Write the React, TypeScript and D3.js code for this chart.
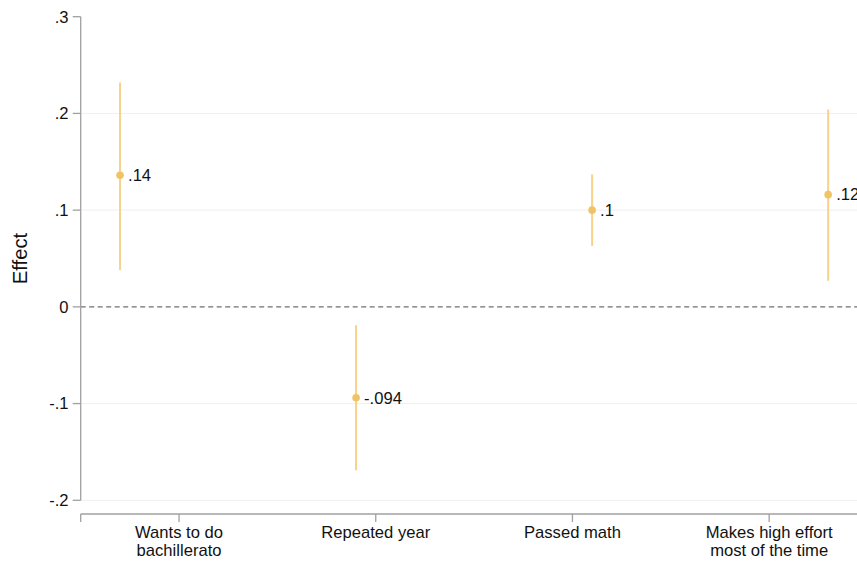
import React from "react";
import * as d3 from "d3";

const categories: string[][] = [
  ["Wants to do", "bachillerato"],
  ["Repeated year"],
  ["Passed math"],
  ["Makes high effort", "most of the time"],
];
const estimates = [0.136, -0.094, 0.1, 0.116];
const lowerCI = [0.038, -0.169, 0.063, 0.027];
const upperCI = [0.232, -0.019, 0.137, 0.204];
const valueLabels = [".14", "-.094", ".1", ".12"];
const yTicks = [0.3, 0.2, 0.1, 0, -0.1, -0.2];
const yTickLabels = [".3", ".2", ".1", "0", "-.1", "-.2"];

const W = 857;
const H = 561;
const FONT = "'Liberation Sans', Arial, sans-serif";
const FS = 16.6;

export default function App() {
  const y = d3.scaleLinear().domain([-0.2, 0.3]).range([500.3, 16.7]);
  const x = d3.scaleLinear().domain([0.5, 4.5]).range([80.7, 867.5]);
  const axisY = 514;
  const n = estimates.length;
  const offset = (i: number) => (i - (n - 1) / 2) * 0.2;
  const px = (i: number) => x(i + 1 + offset(i));

  return (
    <svg
      width={W}
      height={H}
      style={{ position: "absolute", left: 0, top: 0, background: "#fff" }}
      fontFamily={FONT}
    >
      {/* grid */}
      {yTicks
        .filter((t) => t !== 0 && t !== 0.3)
        .map((t) => (
          <line key={"g" + t} x1={x(0.5)} x2={W} y1={y(t)} y2={y(t)} stroke="#efefef" strokeWidth={1} />
        ))}
      {/* zero line */}
      <line x1={x(0.5)} x2={W} y1={y(0)} y2={y(0)} stroke="#6f6f6f" strokeWidth={1.2} strokeDasharray="5,3.5" />
      {/* y axis */}
      <line x1={x(0.5)} x2={x(0.5)} y1={y(0.3)} y2={y(-0.2)} stroke="#a0a0a0" strokeWidth={1.3} />
      {yTicks.map((t, i) => (
        <g key={"yt" + t}>
          <line x1={x(0.5) - 8} x2={x(0.5)} y1={y(t)} y2={y(t)} stroke="#a0a0a0" strokeWidth={1.3} />
          <text x={68.5} y={y(t)} dy="0.35em" textAnchor="end" fontSize={FS} fill="#111">
            {yTickLabels[i]}
          </text>
        </g>
      ))}
      <text
        transform={`translate(27,${(y(0.3) + y(-0.2)) / 2}) rotate(-90)`}
        textAnchor="middle"
        fontSize={20.3}
        fill="#111"
      >
        Effect
      </text>
      {/* x axis */}
      <line x1={x(0.5)} x2={W} y1={axisY} y2={axisY} stroke="#a0a0a0" strokeWidth={1.3} />
      <line x1={x(0.5)} x2={x(0.5)} y1={axisY} y2={axisY + 8} stroke="#a0a0a0" strokeWidth={1.3} />
      {categories.map((c, i) => (
        <g key={"xc" + i}>
          <line x1={x(i + 1)} x2={x(i + 1)} y1={axisY} y2={axisY + 8} stroke="#a0a0a0" strokeWidth={1.3} />
          {c.map((line, j) => (
            <text key={j} x={x(i + 1)} y={538 + j * 17.5} textAnchor="middle" fontSize={FS} fill="#111">
              {line}
            </text>
          ))}
        </g>
      ))}
      {/* CIs and points */}
      {estimates.map((e, i) => (
        <g key={"p" + i}>
          <line x1={px(i)} x2={px(i)} y1={y(upperCI[i])} y2={y(lowerCI[i])} stroke="#f6d28a" strokeWidth={2} />
          <circle cx={px(i)} cy={y(e)} r={3.8} fill="#f0c466" />
          <text x={px(i) + 8} y={y(e)} dy="0.35em" fontSize={FS} fill="#111">
            {valueLabels[i]}
          </text>
        </g>
      ))}
    </svg>
  );
}
